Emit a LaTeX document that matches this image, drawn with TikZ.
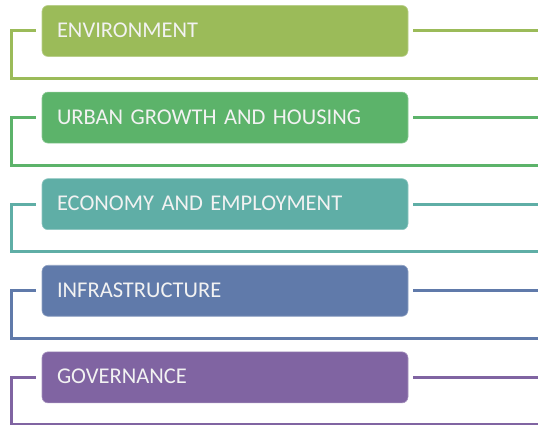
\documentclass[tikz,border=0pt]{standalone}
\usepackage{fontspec}
\setmainfont{Carlito}
\definecolor{cA}{RGB}{155,187,89}
\definecolor{cB}{RGB}{92,179,106}
\definecolor{cC}{RGB}{95,174,166}
\definecolor{cD}{RGB}{96,122,170}
\definecolor{cE}{RGB}{128,100,162}
\definecolor{txt}{RGB}{242,242,242}
\tikzset{
  topic/.style={draw=#1!70!white, line width=0.6pt, fill=#1, rounded corners=6pt,
    minimum width=366pt, minimum height=51pt, text width=336pt, inner xsep=15pt,
    align=left, text=txt, font=\fontsize{22.5}{26}\selectfont},
  link/.style={draw=#1, line width=3pt, line join=miter},
}
\begin{document}
\begin{tikzpicture}[x=1pt,y=1pt]
\useasboundingbox (0,0) rectangle (538,425);
\foreach \i/\c/\t in {0/cA/ENVIRONMENT,1/cB/URBAN GROWTH AND HOUSING,2/cC/ECONOMY AND EMPLOYMENT,3/cD/INFRASTRUCTURE,4/cE/GOVERNANCE}{
  \pgfmathsetmacro{\yc}{425-31-86.6*\i}
  \node[topic=\c] (b\i) at (225,\yc) {\raisebox{1.5pt}{\t}};
  \coordinate (r\i) at (538,\yc);
  \coordinate (e\i) at (538,\yc-47.5);
  \draw[link=\c] ([xshift=-6pt]b\i.west) -- ++(-24,0) |- (e\i);
  \draw[link=\c] ([xshift=5pt]b\i.east) -- (r\i);
}
\end{tikzpicture}
\end{document}
